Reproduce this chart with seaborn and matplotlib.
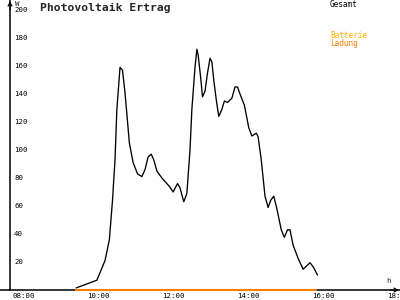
import matplotlib
matplotlib.use("Agg")
import matplotlib.pyplot as plt
import seaborn as sns
import pandas as pd
from matplotlib.transforms import ScaledTranslation

# ---- data ----
gesamt_times = ["09:38", "10:11", "10:24", "10:31", "10:36", "10:40", "10:43", "10:48",
                "10:52", "10:56", "11:03", "11:09", "11:16", "11:23", "11:28", "11:33",
                "11:38", "11:42", "11:47", "11:55", "12:07", "12:13", "12:20", "12:24",
                "12:30", "12:35", "12:40", "12:43", "12:48", "12:51", "12:53", "12:57",
                "13:00", "13:04", "13:08", "13:12", "13:15", "13:18", "13:22", "13:26",
                "13:31", "13:35", "13:40", "13:47", "13:52", "13:56", "14:00", "14:07",
                "14:14", "14:19", "14:26", "14:29", "14:34", "14:40", "14:45", "14:49",
                "14:54", "14:59", "15:06", "15:11", "15:16", "15:20", "15:25", "15:33",
                "15:41", "15:52", "15:57", "16:04"]
gesamt_values = [1.5, 7, 21, 36, 64, 93, 129, 159,
                 157, 141, 105, 91, 83, 81, 86, 95,
                 97, 93, 85, 80, 74, 70, 76, 73,
                 63, 69, 100, 129, 159, 172, 168, 152,
                 138, 142, 155, 165.5, 163, 150, 136, 124,
                 129, 135, 134, 137, 145, 145, 140, 132,
                 116, 110, 112, 109.5, 93, 67, 59, 64,
                 67, 58, 43, 37.6, 43, 43, 32, 22.6,
                 14.8, 19.5, 16.6, 10.7]
ladung_times = ["09:38", "16:02"]
ladung_values = [0, 0]

x_ticks = [8, 10, 12, 14, 16, 18]
x_tick_labels = ["08:00", "10:00", "12:00", "14:00", "16:00", "18:00"]
y_ticks = [20, 40, 60, 80, 100, 120, 140, 160, 180, 200]

title = "Photovoltaik Ertrag"
legend_gesamt = "Gesamt"
legend_batterie = "Batterie"
legend_ladung = "Ladung"


def to_hours(t):
    h, m = t.split(":")
    return int(h) + int(m) / 60.0


df_g = pd.DataFrame({"t": [to_hours(t) for t in gesamt_times], "W": gesamt_values})
df_l = pd.DataFrame({"t": [to_hours(t) for t in ladung_times], "W": ladung_values})

sns.set_style("white")
plt.rcParams["font.family"] = ["DejaVu Sans Mono", "DejaVu Sans"]

W, H = 400, 300
fig = plt.figure(figsize=(4, 3), dpi=100)
ax = fig.add_axes([0, 10 / H, 1, 290 / H])

px_per_h = 37.5
px_per_w = 1.4
x_left = 8 - 15 / px_per_h
x_right = 8 + 385 / px_per_h
y_axis_x = 8 - 5 / px_per_h
ax.set_xlim(x_left, x_right)
ax.set_ylim(0, 290 / px_per_w)

sns.lineplot(data=df_g, x="t", y="W", color="black", lw=0.95, ax=ax, clip_on=False)
sns.lineplot(data=df_l, x="t", y="W", color="#FF8000", lw=1.5, ax=ax, clip_on=False,
             zorder=5)

for s in ["top", "right"]:
    ax.spines[s].set_visible(False)
ax.spines["left"].set_position(("data", y_axis_x))
for s in ["left", "bottom"]:
    ax.spines[s].set_color("black")
    ax.spines[s].set_linewidth(1.1)

ax.set_xticks(x_ticks, labels=x_tick_labels)
ax.set_yticks(y_ticks, labels=[str(v) for v in y_ticks])
ax.tick_params(axis="x", direction="inout", length=3.6, width=0.8, pad=0.4,
               labelsize=5.3, colors="black")
ax.tick_params(axis="y", direction="inout", length=3.0, width=0.8, pad=-4.4,
               labelsize=5.3, colors="black")
for lab in ax.get_yticklabels():
    lab.set_ha("left")
off = ScaledTranslation(-3 / 100, 0, fig.dpi_scale_trans)
for lab in ax.get_xticklabels():
    lab.set_ha("left")
    lab.set_transform(lab.get_transform() + off)
ax.set_xlabel("")
ax.set_ylabel("")
ax.grid(False)

# axis arrows
ax.annotate("", xy=(y_axis_x, 289 / px_per_w), xytext=(y_axis_x, 280 / px_per_w),
            arrowprops=dict(arrowstyle="->", lw=0.8, color="black", shrinkA=0,
                            shrinkB=0, mutation_scale=7), annotation_clip=False)
ax.annotate("", xy=(8 + 384 / px_per_h, 0), xytext=(8 + 375 / px_per_h, 0),
            arrowprops=dict(arrowstyle="->", lw=0.8, color="black", shrinkA=0,
                            shrinkB=0, mutation_scale=7), annotation_clip=False)

# units
ax.text(8 + 371 / px_per_h, 7 / px_per_w, "h", fontsize=5.3, ha="left", va="baseline")
fig.text(15 / W, 1 - 5.5 / H, "W", fontsize=5.3, ha="left", va="baseline")

# title and legend texts
fig.text(40 / W, 1 - 10.7 / H, title, fontsize=8.2, weight="bold", ha="left",
         va="baseline")
fig.text(330 / W, 1 - 7.3 / H, legend_gesamt, fontsize=5.6, color="black",
         ha="left", va="baseline")
fig.text(330 / W, 1 - 38.3 / H, legend_batterie, fontsize=5.6, color="#FFB000",
         ha="left", va="baseline")
fig.text(330 / W, 1 - 46.0 / H, legend_ladung, fontsize=5.6, color="#FF8000",
         ha="left", va="baseline")

fig.savefig("out.png", dpi=100)
